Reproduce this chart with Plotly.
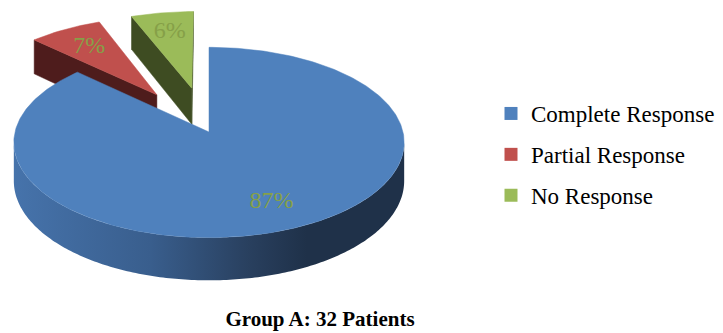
import numpy as np
import plotly.graph_objects as go

# ---- data ----
categories = ["Complete Response", "Partial Response", "No Response"]
values = [87, 7, 6]
labels = ["87%", "7%", "6%"]
title_text = "Group A: 32 Patients"

# ---- styles ----
SERIF = "Liberation Serif, 'Times New Roman', Times, serif"
top_colors = ["#4F81BD", "#C0504D", "#9BBB59"]
face_colors = ["#2A4468", "#4E1C1C", "#3E4C22"]
explode = [0.0, 0.5, 0.5]
label_color = "#86A048"
wall_scale = [[0.0, "#4673AB"], [0.35, "#395E8D"], [0.6, "#29405F"],
              [0.75, "#1F3149"], [1.0, "#1F3149"]]

# ---- projection of a tilted 3D pie ----
CX, CY, A, B, P, H = 209.0, 132.0, 194.0, 94.0, 0.11, 38.0


def proj(X, Y, z=0.0):
    X = np.asarray(X, dtype=float)
    Y = np.asarray(Y, dtype=float)
    w = 1 + P * Y
    return CX + A * X / w, CY - B * Y / w + H * z / w


def signed_area(xs, ys):
    xs = np.asarray(xs); ys = np.asarray(ys)
    return 0.5 * np.sum(xs * np.roll(ys, -1) - np.roll(xs, -1) * ys)


fracs = np.array(values, dtype=float) / sum(values)
cum = np.concatenate([[0], np.cumsum(fracs)]) * 2 * np.pi

fig = go.Figure()

slices = []
for i in range(len(values)):
    t0, t1 = cum[i], cum[i + 1]
    tm = 0.5 * (t0 + t1)
    dX, dY = explode[i] * np.sin(tm), explode[i] * np.cos(tm)
    slices.append((i, t0, t1, tm, dX, dY))

# farther slices first
order = sorted(slices, key=lambda s: -(s[5] + 0.5 * np.cos(s[3])))

vis_lo = np.arccos(-P)
vis_hi = 2 * np.pi - vis_lo

for (i, t0, t1, tm, dX, dY) in order:
    # radial faces (back-face culled by screen winding)
    for t, sgn in ((t0, -1), (t1, 1)):
        rx, ry = dX + np.sin(t), dY + np.cos(t)
        X = [dX, rx, rx, dX]
        Y = [dY, ry, ry, dY]
        Z = [0, 0, 1, 1]
        xs, ys = [], []
        for xx, yy, zz in zip(X, Y, Z):
            a, b = proj(xx, yy, zz)
            xs.append(float(a)); ys.append(float(b))
        if sgn * signed_area(xs, ys) > 2.0 and explode[i] > 0:
            fig.add_trace(go.Scatter(x=xs + [xs[0]], y=ys + [ys[0]], fill="toself",
                                     mode="lines", line=dict(color=face_colors[i], width=0.5),
                                     fillcolor=face_colors[i], showlegend=False,
                                     hoverinfo="skip"))
    # outer wall (front-facing part)
    a0, a1 = max(t0, vis_lo), min(t1, vis_hi)
    if a1 > a0:
        th = np.linspace(a0, a1, 200)
        X = dX + np.sin(th); Y = dY + np.cos(th)
        xt, yt = proj(X, Y, 0)
        xb, yb = proj(X, Y, 1)
        xs = np.concatenate([xt, xb[::-1], xt[:1]])
        ys = np.concatenate([yt, yb[::-1], yt[:1]])
        fig.add_trace(go.Scatter(x=xs, y=ys, fill="toself", mode="none",
                                 fillgradient=dict(type="horizontal", colorscale=wall_scale,
                                                   start=float(xs.min()), stop=float(xs.max())),
                                 showlegend=False, hoverinfo="skip"))
    # top surface
    th = np.linspace(t0, t1, max(20, int(400 * (t1 - t0) / (2 * np.pi))))
    X = np.concatenate([[dX], dX + np.sin(th), [dX]])
    Y = np.concatenate([[dY], dY + np.cos(th), [dY]])
    xs, ys = proj(X, Y, 0)
    fig.add_trace(go.Scatter(x=xs, y=ys, fill="toself", mode="lines",
                             line=dict(color=top_colors[i], width=0.5),
                             fillcolor=top_colors[i], showlegend=False,
                             name=categories[i], hoverinfo="skip"))

# percentage labels
lx, ly = [], []
for (i, t0, t1, tm, dX, dY) in slices:
    r = 0.75 if explode[i] == 0 else 0.72
    a, b = proj(dX + r * np.sin(tm), dY + r * np.cos(tm), 0)
    lx.append(float(a)); ly.append(float(b))
fig.add_trace(go.Scatter(x=lx, y=ly, mode="text", text=labels,
                         textfont=dict(family=SERIF, size=24, color=label_color),
                         showlegend=False, hoverinfo="skip"))

# legend entries
for i, c in enumerate(categories):
    fig.add_trace(go.Scatter(x=[None], y=[None], mode="markers", name=c,
                             legendgroup=c,
                             marker=dict(symbol="square", size=13, color=top_colors[i])))

fig.update_layout(
    width=723, height=333,
    margin=dict(l=0, r=0, t=0, b=0),
    paper_bgcolor="white", plot_bgcolor="white",
    font=dict(family=SERIF),
    xaxis=dict(range=[0, 723], visible=False, fixedrange=True),
    yaxis=dict(range=[333, 0], visible=False, fixedrange=True),
    showlegend=True,
    legend=dict(x=491 / 723, y=1 - 92 / 333, xanchor="left", yanchor="top",
                font=dict(family=SERIF, size=23, color="black"),
                tracegroupgap=8, bgcolor="rgba(0,0,0,0)"),
    title=dict(text="<b>" + title_text + "</b>", x=320 / 723, y=1 - 319 / 333,
               xanchor="center", yanchor="middle",
               font=dict(family=SERIF, size=21, color="black")),
)

fig.write_html("out.html")
